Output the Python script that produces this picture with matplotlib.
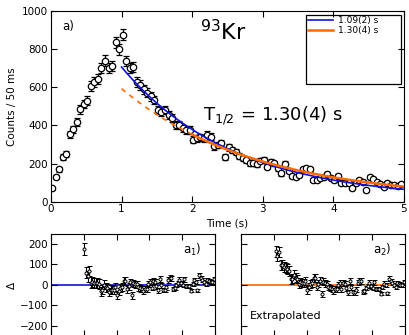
import numpy as np
import matplotlib
matplotlib.use("Agg")
import matplotlib.pyplot as plt
from matplotlib.patches import Rectangle

# ---- data (counts per 50 ms bin) ----
t0 = 0.015
dt = 0.05
counts = [70, 131, 170, 236, 248, 353, 380, 416, 484, 512,
          530, 607, 629, 645, 700, 740, 700, 712, 836, 799,
          876, 738, 700, 705, 629, 612, 589, 571, 554, 533,
          481, 472, 481, 455, 437, 402, 402, 385, 376, 376,
          324, 332, 337, 332, 350, 341, 290, 297, 306, 233,
          285, 271, 262, 240, 227, 219, 201, 205, 198, 215,
          219, 184, 210, 201, 175, 149, 198, 163, 135, 131,
          140, 170, 175, 170, 114, 114, 126, 131, 144, 123,
          114, 136, 100, 96, 96, 70, 100, 114, 105, 61,
          131, 117, 105, 93, 79, 100, 90, 85, 80, 95]
times = t0 + dt * np.arange(len(counts))
counts = np.array(counts, dtype=float)
errs = np.sqrt(counts)

# fit parameters: A * 2^(-(t-1)/T) + B
fit_blue = dict(A=696.0, T=1.09, B=10.0, label="1.09(2) s")
fit_orange = dict(A=583.0, T=1.30, B=10.0, label="1.30(4) s")
fit_start = 1.0
orange_solid_start = 2.0

def model(p, t):
    return p["A"] * 2.0 ** (-(t - fit_start) / p["T"]) + p["B"]

BLUE = "#1010e0"
ORANGE = "#ff6a00"

fig = plt.figure(figsize=(4.09, 3.35), dpi=100)
ax = fig.add_axes([0.1247, 0.398, 0.863, 0.569])

ax.errorbar(times, counts, yerr=errs, fmt="o", ms=4.6, mfc="white", mec="black",
            mew=0.9, ecolor="black", elinewidth=0.9, capsize=2.2, capthick=0.9, zorder=2)

tt = np.linspace(fit_start, 5.0, 300)
ax.plot(tt, model(fit_blue, tt), color=BLUE, lw=1.2, zorder=3, label=fit_blue["label"])
td = np.linspace(fit_start, orange_solid_start, 100)
ax.plot(td, model(fit_orange, td), color=ORANGE, lw=1.2, ls=(0, (3, 3)), zorder=3)
ts = np.linspace(orange_solid_start, 5.0, 200)
ax.plot(ts, model(fit_orange, ts), color=ORANGE, lw=1.8, zorder=3, label=fit_orange["label"])

ax.set_xlim(0, 5)
ax.set_ylim(0, 1000)
ax.set_xticks([0, 1, 2, 3, 4, 5])
ax.set_yticks([0, 200, 400, 600, 800, 1000])
ax.tick_params(direction="in", top=True, right=True, length=4, labelsize=7.5, pad=2)
ax.set_xlabel("Time (s)", fontsize=7.5, labelpad=3)
ax.set_ylabel("Counts / 50 ms", fontsize=7.5, labelpad=4)

leg = ax.legend(loc="upper left", bbox_to_anchor=(0.722, 0.985), frameon=False,
                fontsize=6.5, handlelength=2.8, handletextpad=0.6, labelspacing=0.15,
                borderaxespad=0.0, borderpad=0.2)
ax.add_patch(Rectangle((0.722, 0.617), 0.27, 0.362, transform=ax.transAxes,
                       fill=False, edgecolor="black", lw=0.9, zorder=5))

ax.text(0.156, 921, "a)", fontsize=8.5, ha="left", va="center")
ax.text(2.11, 848, r"$^{93}$Kr", fontsize=16, ha="left", va="baseline")
ax.text(2.15, 425, r"T$_{1/2}$ = 1.30(4) s", fontsize=13, ha="left", va="baseline")

# ---- residual panels ----
mask = times >= fit_start
rt = times[mask]
res1 = counts[mask] - model(fit_blue, rt)
res2 = counts[mask] - model(fit_orange, rt)
rerr = errs[mask]

ax1 = fig.add_axes([0.1247, -0.0037, 0.401, 0.306])
ax2 = fig.add_axes([0.589, -0.0037, 0.401, 0.306])
for a, res, col, lab in [(ax1, res1, BLUE, r"a$_1$)"), (ax2, res2, ORANGE, r"a$_2$)")]:
    a.axhline(0, color=col, lw=1.2, zorder=1)
    a.errorbar(rt, res, yerr=rerr, fmt="o", ms=2.2, mfc="white", mec="black", mew=0.7,
               ecolor="black", elinewidth=0.8, capsize=1.8, capthick=0.8, zorder=2)
    a.set_xlim(0, 5)
    a.set_ylim(-250, 250)
    a.set_xticks([0, 1, 2, 3, 4, 5])
    a.set_yticks([-200, -100, 0, 100, 200])
    a.tick_params(direction="in", top=True, right=True, length=4, labelsize=7.5, pad=2)
    a.set_xticklabels([])
    a.text(4.02, 171, lab, fontsize=8.5, ha="left", va="center")

ax1.set_yticklabels(["\u2212200", "\u2212100", "0", "100", "200"])
ax2.set_yticklabels([])
ax1.set_ylabel("\u0394", fontsize=7.5, labelpad=2)
ax2.text(0.27, -167, "Extrapolated", fontsize=8, ha="left", va="baseline")

fig.savefig("out.png", dpi=100)
